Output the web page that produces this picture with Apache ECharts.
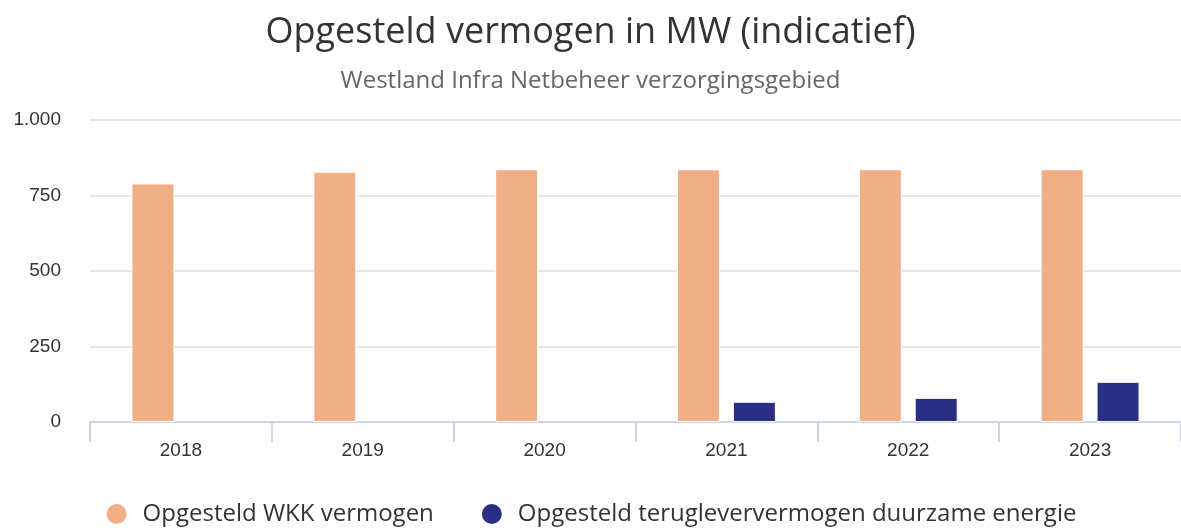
<!DOCTYPE html>
<html>
<head>
<meta charset="utf-8">
<script src="https://cdn.jsdelivr.net/npm/echarts@6/dist/echarts.min.js"></script>
<style>
  html, body { margin: 0; padding: 0; background: #fff; }
  #main { width: 1181px; height: 528px; }
</style>
</head>
<body>
<div id="main"></div>
<script>
const years = ['2018', '2019', '2020', '2021', '2022', '2023'];
const wkkValues = [790, 829, 837, 837, 837, 837];
const duurzaamValues = [null, null, null, 67, 80, 133];
const seriesNames = ['Opgesteld WKK vermogen', 'Opgesteld terugleververmogen duurzame energie'];
const yTicks = [0, 250, 500, 750, 1000];

const chart = echarts.init(document.getElementById('main'));

const fmt = v => String(v).replace(/\B(?=(\d{3})+(?!\d))/g, '.');

const option = {
  backgroundColor: '#fff',
  animation: false,
  title: [
    {
      text: 'Opgesteld vermogen in MW (indicatief)',
      left: 'center',
      top: 10,
      textStyle: { fontFamily: 'Open Sans', fontSize: 36, fontWeight: 'normal', color: '#333333' }
    },
    {
      text: 'Westland Infra Netbeheer verzorgingsgebied',
      left: 'center',
      top: 64,
      textStyle: { fontFamily: 'Open Sans', fontSize: 24, fontWeight: 'normal', color: '#666666' }
    }
  ],
  legend: {
    bottom: -3,
    left: 'center',
    icon: 'circle',
    itemWidth: 22,
    itemHeight: 22,
    itemGap: 46,
    textStyle: { fontFamily: 'Open Sans', fontSize: 24, color: '#333333', padding: [0, 0, 0, 10] },
    data: seriesNames
  },
  grid: { left: 90, right: 0, top: 120, bottom: 106, containLabel: false },
  xAxis: {
    type: 'category',
    data: years,
    axisLine: { lineStyle: { color: '#ccd6eb', width: 2 } },
    axisTick: { show: true, length: 20, lineStyle: { color: '#ccd6eb', width: 2 } },
    axisLabel: { fontFamily: 'Liberation Sans', fontSize: 19, color: '#333333', margin: 19 }
  },
  yAxis: {
    type: 'value',
    min: yTicks[0],
    max: yTicks[yTicks.length - 1],
    interval: 250,
    axisLine: { show: false },
    axisTick: { show: false },
    splitLine: { lineStyle: { color: '#e6e6e6', width: 2 } },
    axisLabel: {
      fontFamily: 'Liberation Sans', fontSize: 19, color: '#333333', margin: 29,
      formatter: fmt
    }
  },
  series: [
    {
      name: seriesNames[0],
      type: 'bar',
      data: wkkValues,
      barWidth: 43,
      barGap: '30%',
      itemStyle: { color: '#f0af86', borderColor: '#fff', borderWidth: 1 }
    },
    {
      name: seriesNames[1],
      type: 'bar',
      data: duurzaamValues,
      barWidth: 43,
      itemStyle: { color: '#293083', borderColor: '#fff', borderWidth: 1 }
    }
  ]
};

chart.setOption(option);
</script>
</body>
</html>
